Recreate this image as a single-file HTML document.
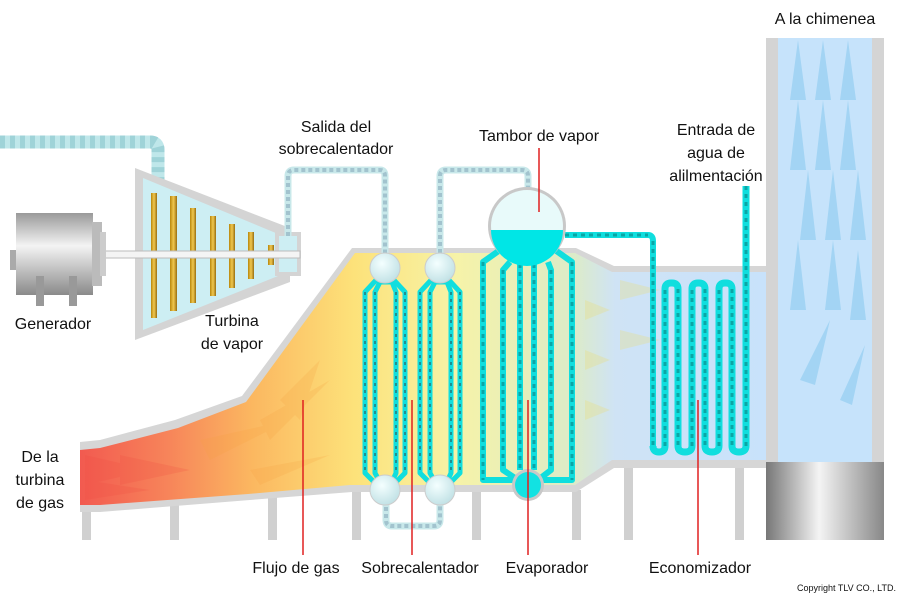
<!DOCTYPE html>
<html><head><meta charset="utf-8"><style>
html,body{margin:0;padding:0;background:#fff;width:900px;height:600px;overflow:hidden}
text{font-family:"Liberation Sans",sans-serif;fill:#111}
</style></head><body>
<svg width="900" height="600" viewBox="0 0 900 600" xmlns="http://www.w3.org/2000/svg">
<defs>
<linearGradient id="gas" x1="80" y1="0" x2="766" y2="0" gradientUnits="userSpaceOnUse">
<stop offset="0" stop-color="#f25a50"/>
<stop offset="0.13" stop-color="#f7855a"/>
<stop offset="0.25" stop-color="#fbb760"/>
<stop offset="0.4" stop-color="#fde27a"/>
<stop offset="0.55" stop-color="#f6f3a8"/>
<stop offset="0.72" stop-color="#dcebc8"/>
<stop offset="0.78" stop-color="#cfe3f5"/>
<stop offset="1" stop-color="#c8e2fb"/>
</linearGradient>
<linearGradient id="gen" x1="0" y1="0" x2="0" y2="1">
<stop offset="0" stop-color="#9a9a9a"/><stop offset="0.4" stop-color="#f4f4f4"/><stop offset="1" stop-color="#8a8a8a"/>
</linearGradient>
<linearGradient id="cyl" x1="0" y1="0" x2="1" y2="0">
<stop offset="0" stop-color="#777"/><stop offset="0.45" stop-color="#f4f4f4"/><stop offset="1" stop-color="#888"/>
</linearGradient>
<linearGradient id="blade" x1="0" y1="0" x2="1" y2="0">
<stop offset="0" stop-color="#b8860b"/><stop offset="0.5" stop-color="#f0c850"/><stop offset="1" stop-color="#9a6e10"/>
</linearGradient>
<radialGradient id="ball" cx="0.4" cy="0.35" r="0.7">
<stop offset="0" stop-color="#f4ffff"/><stop offset="1" stop-color="#bfe0e4"/>
</radialGradient>
</defs>

<rect x="766" y="38" width="118" height="502" fill="#d4d4d4"/>
<rect x="778" y="38" width="94" height="424" fill="#c6e3fb"/>
<g fill="#8ccbf0" opacity="0.6">
<path d="M790 100 L798 40 L806 100Z"/><path d="M815 100 L823 40 L831 100Z"/><path d="M840 100 L848 40 L856 100Z"/>
<path d="M790 170 L798 100 L806 170Z"/><path d="M815 170 L823 100 L831 170Z"/><path d="M840 170 L848 100 L856 170Z"/>
<path d="M800 240 L808 170 L816 240Z"/><path d="M825 240 L833 170 L841 240Z"/><path d="M850 240 L858 170 L866 240Z"/>
<path d="M790 310 L798 240 L806 310Z"/><path d="M825 310 L833 240 L841 310Z"/><path d="M850 320 L858 250 L866 320Z"/>
<path d="M800 380 L830 320 L815 385Z"/><path d="M840 400 L865 345 L852 405Z"/>
</g>
<rect x="766" y="462" width="118" height="78" fill="url(#cyl)"/>

<g fill="#d0d0d0">
<rect x="82" y="508" width="9" height="32"/><rect x="170" y="500" width="9" height="40"/>
<rect x="268" y="492" width="9" height="48"/><rect x="352" y="490" width="9" height="50"/>
<rect x="472" y="490" width="9" height="50"/><rect x="572" y="490" width="9" height="50"/>
<rect x="624" y="466" width="9" height="74"/><rect x="735" y="466" width="9" height="74"/>
</g>

<path d="M80 442 L100 440 L175 420 L242 396 L352 248 L576 248 L614 266 L766 266 L766 468 L614 468 L576 492 L352 492 L250 500 L100 512 L80 512Z" fill="#d6d6d6"/>
<path d="M80 450 L100 448 L178 428 L246 402 L355 253 L575 253 L612 272 L766 272 L766 460 L612 460 L575 485 L350 485 L248 494 L100 505 L80 505Z" fill="url(#gas)"/>
<g fill="#f04a40" opacity="0.2">
<path d="M85 455 L150 470 L85 485Z"/><path d="M85 480 L150 490 L85 500Z"/><path d="M120 455 L190 470 L120 485Z"/>
</g>
<g fill="#f7a040" opacity="0.2">
<path d="M200 440 L290 420 L210 460Z"/><path d="M260 420 L330 380 L270 440Z"/><path d="M280 400 L320 360 L300 420Z"/>
<path d="M250 470 L330 455 L260 485Z"/>
</g>
<g fill="#f0dc60" opacity="0.25">
<path d="M585 300 L610 310 L585 320Z"/><path d="M585 350 L610 360 L585 370Z"/><path d="M585 400 L610 410 L585 420Z"/>
<path d="M620 280 L660 290 L620 300Z"/><path d="M620 330 L660 340 L620 350Z"/>
</g>

<path d="M0 142 L150 142 Q158 142 158 150 L158 185" fill="none" stroke="#bfe7ea" stroke-width="13"/>
<path d="M0 142 L150 142 Q158 142 158 150 L158 185" fill="none" stroke="#9fd3d8" stroke-width="13" stroke-dasharray="5 5"/>

<path d="M135 168 L290 228 L290 282 L135 340Z" fill="#d4d4d4"/>
<path d="M143 178 L283 236 L283 274 L143 330Z" fill="#cdeef3"/>
<g fill="url(#blade)">
<rect x="151" y="193" width="6" height="125"/><rect x="170" y="196" width="7" height="115"/>
<rect x="190" y="208" width="6" height="95"/><rect x="210" y="216" width="6" height="80"/>
<rect x="229" y="224" width="6" height="64"/><rect x="248" y="232" width="6" height="47"/>
<rect x="268" y="245" width="6" height="20"/>
</g>
<rect x="275" y="232" width="26" height="44" fill="#d4d4d4"/>
<rect x="279" y="236" width="18" height="36" fill="#cdeef3"/>
<rect x="100" y="251" width="200" height="7" fill="#f4f4f4" stroke="#bbb" stroke-width="1"/>

<rect x="10" y="250" width="10" height="20" fill="#aaa"/>
<rect x="16" y="213" width="77" height="82" fill="url(#gen)"/>
<rect x="92" y="222" width="10" height="64" fill="#bbb"/>
<rect x="100" y="232" width="6" height="44" fill="#ccc"/>
<rect x="36" y="276" width="8" height="30" fill="#999"/><rect x="69" y="276" width="8" height="30" fill="#999"/>

<g fill="none" stroke-linejoin="round">
<path d="M288 236 L288 176 Q288 170 294 170 L380 170 Q385 170 385 176 L385 260" stroke="#c8e8ea" stroke-width="7"/>
<path d="M288 236 L288 176 Q288 170 294 170 L380 170 Q385 170 385 176 L385 260" stroke="#8ab" stroke-width="4" stroke-dasharray="4 3" opacity="0.6"/>
<path d="M440 260 L440 176 Q440 170 446 170 L522 170 Q528 170 528 176 L528 192" stroke="#c8e8ea" stroke-width="7"/>
<path d="M440 260 L440 176 Q440 170 446 170 L522 170 Q528 170 528 176 L528 192" stroke="#8ab" stroke-width="4" stroke-dasharray="4 3" opacity="0.6"/>
<path d="M386 500 L386 520 Q386 526 392 526 L434 526 Q440 526 440 520 L440 500" stroke="#c8e8ea" stroke-width="7"/>
<path d="M386 500 L386 520 Q386 526 392 526 L434 526 Q440 526 440 520 L440 500" stroke="#8ab" stroke-width="4" stroke-dasharray="4 3" opacity="0.6"/>
</g>

<g fill="none" stroke="#10dede" stroke-width="5" stroke-linejoin="round">
<path d="M378 278 L365 292 L365 473 L378 486"/><path d="M392 278 L405 292 L405 473 L392 486"/>
<path d="M380 282 L375 292 L375 473 L380 482 M380 282 L392 282 L396 292 L396 473 L392 482"/>
<path d="M433 278 L420 292 L420 473 L433 486"/><path d="M447 278 L460 292 L460 473 L447 486"/>
<path d="M435 282 L430 292 L430 473 L435 482 M435 282 L447 282 L451 292 L451 473 L447 482"/>
</g>
<g fill="none" stroke="#1f8f8f" stroke-width="2" stroke-dasharray="3 4">
<path d="M365 292 L365 473 M405 292 L405 473 M375 292 L375 473 M396 292 L396 473 M420 292 L420 473 M460 292 L460 473 M430 292 L430 473 M451 292 L451 473"/>
</g>
<circle cx="385" cy="268" r="15" fill="url(#ball)" stroke="#ccc"/>
<circle cx="440" cy="268" r="15" fill="url(#ball)" stroke="#ccc"/>
<circle cx="385" cy="490" r="15" fill="url(#ball)" stroke="#ccc"/>
<circle cx="440" cy="490" r="15" fill="url(#ball)" stroke="#ccc"/>

<g fill="none" stroke="#10dede" stroke-width="6" stroke-linejoin="round">
<path d="M500 250 L483 262 L483 480 L515 480"/>
<path d="M510 262 L503 270 L503 470 L518 480"/>
<path d="M520 264 L520 470"/><path d="M534 264 L534 470"/>
<path d="M548 262 L551 270 L551 470 L538 480"/>
<path d="M555 250 L572 262 L572 480 L540 480"/>
<path d="M565 235 L648 235 Q653 235 653 241 L653 450"/>
</g>
<g fill="none" stroke="#0aa6a6" stroke-width="3" stroke-dasharray="4 4">
<path d="M483 262 L483 480 M503 270 L503 470 M520 264 L520 470 M534 264 L534 470 M551 270 L551 470 M572 262 L572 480 M565 235 L648 235 M653 241 L653 450"/>
</g>
<circle cx="527" cy="226" r="39" fill="#c8c8c8"/>
<circle cx="527" cy="226" r="36" fill="#e8fafa"/>
<path d="M491 230 L563 230 A36 36 0 0 1 491 230Z" fill="#00e6e6"/>
<circle cx="528" cy="485" r="16" fill="#c8c8c8"/>
<circle cx="528" cy="485" r="13" fill="#12e2e2"/>

<!-- economizer -->
<g fill="none" stroke="#10dede" stroke-width="7" stroke-linejoin="round">
<path d="M653 446 Q653 452 659 452 L659 452 Q665 452 665 446 L665 289 Q665 283 671 283 L672 283 Q678 283 678 289 L678 446 Q678 452 685 452 Q692 452 692 446 L692 289 Q692 283 698 283 L699 283 Q705 283 705 289 L705 446 Q705 452 712 452 Q719 452 719 446 L719 289 Q719 283 725 283 L726 283 Q732 283 732 289 L732 446 Q732 452 739 452 Q746 452 746 446 L746 186"/>
</g>
<g fill="none" stroke="#0aa6a6" stroke-width="3" stroke-dasharray="4 4">
<path d="M665 446 L665 289 M678 289 L678 446 M692 446 L692 289 M705 289 L705 446 M719 446 L719 289 M732 289 L732 446 M746 446 L746 186"/>
</g>

<g stroke="#e02020" stroke-width="1.5">
<line x1="303" y1="400" x2="303" y2="555"/>
<line x1="412" y1="400" x2="412" y2="555"/>
<line x1="528" y1="400" x2="528" y2="555"/>
<line x1="698" y1="400" x2="698" y2="555"/>
<line x1="539" y1="148" x2="539" y2="212"/>
</g>

<g font-size="16" text-anchor="middle">
<text x="825" y="24">A la chimenea</text>
<text x="336" y="132">Salida del</text>
<text x="336" y="154">sobrecalentador</text>
<text x="539" y="141">Tambor de vapor</text>
<text x="716" y="135">Entrada de</text>
<text x="716" y="158">agua de</text>
<text x="716" y="181">alilmentación</text>
<text x="53" y="329">Generador</text>
<text x="232" y="326">Turbina</text>
<text x="232" y="349">de vapor</text>
<text x="40" y="462">De la</text>
<text x="40" y="485">turbina</text>
<text x="40" y="508">de gas</text>
<text x="296" y="573">Flujo de gas</text>
<text x="420" y="573">Sobrecalentador</text>
<text x="547" y="573">Evaporador</text>
<text x="700" y="573">Economizador</text>
</g>
<text x="896" y="591" font-size="9" text-anchor="end">Copyright TLV CO., LTD.</text>
</svg>
</body></html>
